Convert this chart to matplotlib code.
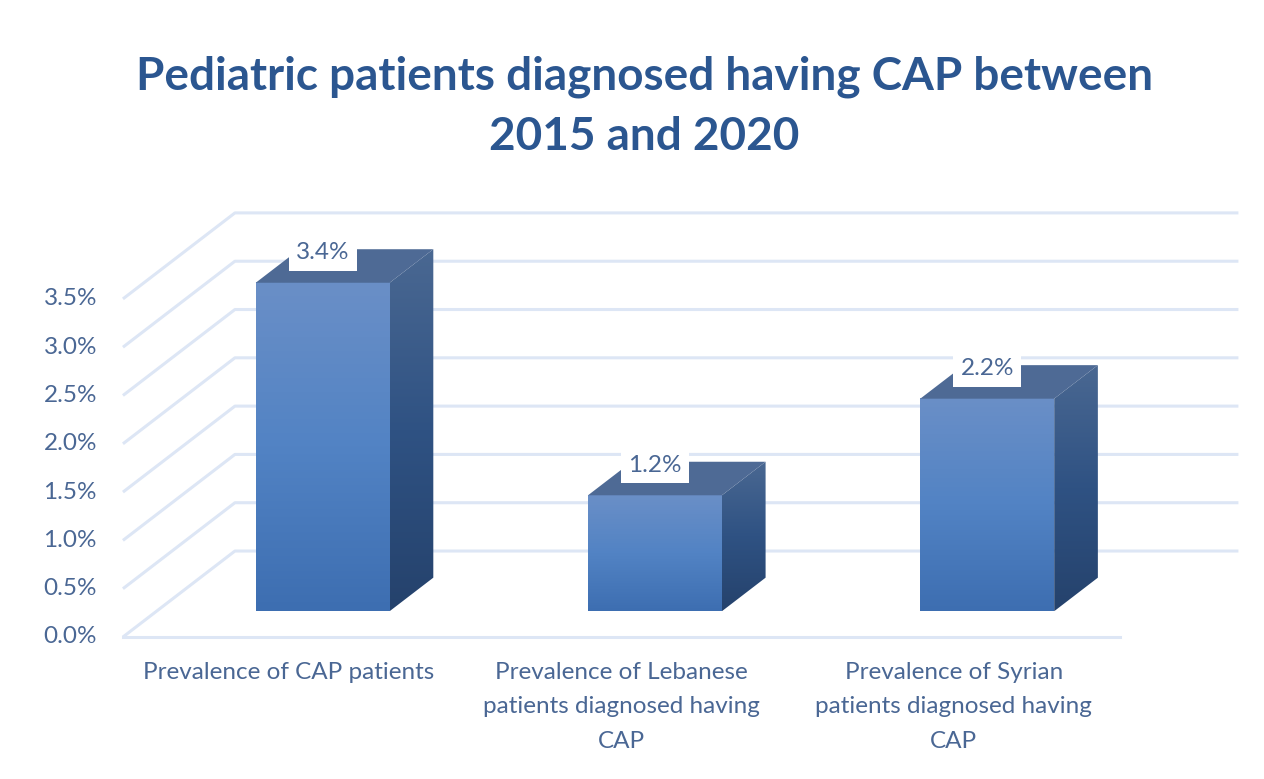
import numpy as np
import matplotlib.pyplot as plt
from matplotlib.colors import LinearSegmentedColormap
from matplotlib.patches import Polygon

categories = ["Prevalence of CAP patients",
              "Prevalence of Lebanese\npatients diagnosed having\nCAP",
              "Prevalence of Syrian\npatients diagnosed having\nCAP"]
values = [3.4, 1.2, 2.2]
labels = ["3.4%", "1.2%", "2.2%"]
ticks = np.arange(0, 3.51, 0.5)

title_col = "#2B5690"
text_col = "#4A6794"
grid_col = "#DDE6F5"

# oblique projection: depth d (0 front wall .. 1 back wall)
DX = 0.337
DY = 0.89
def proj(x, y, d):
    return (x + d * DX, y + d * DY)

d0, d1 = 0.3, 0.69   # bar depth
bw = 0.403           # bar width

fig = plt.figure(figsize=(12.64, 7.79), dpi=100)
ax = fig.add_axes([0, 0, 1, 1])
ax.axis("off")

# walls gridlines
for t in ticks:
    p0 = proj(0, t, 0)
    p1 = proj(0, t, 1)
    p2 = proj(3.02, t, 1)
    ax.plot([p0[0], p1[0], p2[0]], [p0[1], p1[1], p2[1]], color=grid_col, lw=2.2, zorder=1,
            solid_capstyle="butt")
    ax.text(-0.078, t, "%.1f%%" % t, ha="right", va="center", fontsize=17.5,
            color=text_col, family="Lato")
f0 = proj(0, 0, 0)
f1 = proj(3, 0, 0)
ax.plot([f0[0], f1[0]], [f0[1], f1[1]], color=grid_col, lw=2.2, zorder=1)

front_cm = LinearSegmentedColormap.from_list("f", ["#3D6EB1", "#5283C4", "#6A8FC7"])
side_cm = LinearSegmentedColormap.from_list("s", ["#25426C", "#2F5283", "#4A6892"])
grad = np.linspace(0, 1, 256).reshape(-1, 1)

for i, v in enumerate(values):
    xl = i + 0.5 - bw / 2
    xr = i + 0.5 + bw / 2
    # front face
    a = proj(xl, 0, d0); b = proj(xr, 0, d0); c = proj(xr, v, d0)
    ax.imshow(grad, cmap=front_cm, origin="lower", aspect="auto",
              extent=[a[0], b[0], a[1], c[1]], zorder=3)
    # side face
    s = [proj(xr, 0, d0), proj(xr, 0, d1), proj(xr, v, d1), proj(xr, v, d0)]
    sp = Polygon(s, closed=True, facecolor="none", edgecolor="none")
    ax.add_patch(sp)
    im = ax.imshow(grad, cmap=side_cm, origin="lower", aspect="auto",
                   extent=[s[0][0], s[1][0], s[0][1], s[2][1]], zorder=3)
    im.set_clip_path(sp)
    # top face
    tp = [proj(xl, v, d0), proj(xr, v, d0), proj(xr, v, d1), proj(xl, v, d1)]
    ax.add_patch(Polygon(tp, closed=True, facecolor="#4E6A95", edgecolor="none", zorder=3))
    # data label
    lp = proj(i + 0.5, v + 0.31, d0)
    ax.text(lp[0], lp[1], labels[i], ha="center", va="center", fontsize=17.5,
            color=text_col, family="Lato", zorder=5,
            bbox=dict(boxstyle="square,pad=0.3", facecolor="white", edgecolor="none"))
    # category label
    ax.text(i + 0.5, -0.26, categories[i], ha="center", va="top", fontsize=17.5,
            color=text_col, family="Lato", linespacing=1.78)

ax.set_xlim(-0.370, 3.434)
ax.set_ylim(-1.47, 6.594)

fig.text(0.51, 0.863, "Pediatric patients diagnosed having CAP between\n2015 and 2020",
         ha="center", va="center", fontsize=33, fontweight="bold", color=title_col,
         family="Lato", linespacing=1.55)

fig.savefig("out.png", dpi=100)
